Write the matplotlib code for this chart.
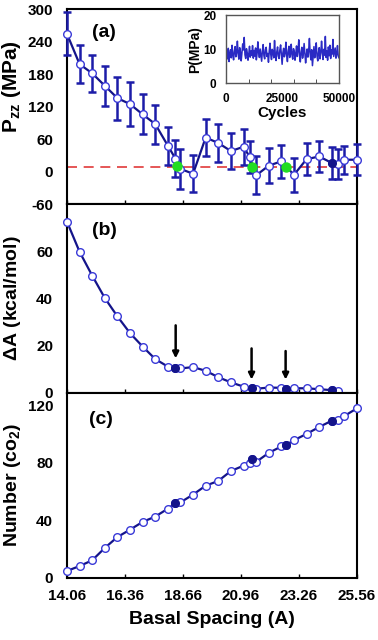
import numpy as np
import matplotlib
matplotlib.use("Agg")
import matplotlib.pyplot as plt

plt.rcParams['font.family'] = ['Liberation Sans', 'DejaVu Sans']
plt.rcParams['font.weight'] = 'bold'
plt.rcParams['axes.unicode_minus'] = False
plt.rcParams['mathtext.fontset'] = 'custom'
plt.rcParams['mathtext.rm'] = 'Liberation Sans:bold'
plt.rcParams['mathtext.bf'] = 'Liberation Sans:bold'
plt.rcParams['mathtext.it'] = 'Liberation Sans:bold'

# ---------------- data ----------------
x_ticks = [14.06, 16.36, 18.66, 20.96, 23.26, 25.56]

# panel (a)
x_a = [14.06, 14.56, 15.06, 15.56, 16.06, 16.56, 17.06, 17.56, 18.06, 18.36, 18.56,
       19.06, 19.56, 20.06, 20.56, 21.06, 21.31, 21.56, 22.06, 22.56, 23.06, 23.56,
       24.06, 24.56, 24.81, 25.06, 25.56]
p_a = [255, 199, 182, 159, 136, 125, 106, 88, 48, 24, 5,
       -4, 63, 53, 38, 46, 27, -7, 11, 19, -6, 23,
       28, 16, 14, 22, 22]
err_a = [40, 35, 34, 37, 40, 41, 37, 36, 35, 34, 37,
         34, 34, 35, 33, 33, 30, 35, 32, 30, 31, 30,
         29, 30, 28, 26, 29]
filled_a = [24.56]
filled_pa = [16]
green_x = [18.41, 21.41, 22.73]
green_p = [10, 8, 8]
ref_pressure = 8.5

# panel (b)
x_b = [14.06, 14.56, 15.06, 15.56, 16.06, 16.56, 17.06, 17.56, 18.06, 18.36, 18.56,
       19.06, 19.56, 20.06, 20.56, 21.06, 21.38, 21.56, 22.06, 22.56, 22.73, 23.06,
       23.56, 24.06, 24.56, 24.81]
dA_b = [72.5, 59.7, 49.6, 40.1, 32.3, 25.2, 19.5, 14.2, 11.0, 10.3, 10.2,
        10.8, 9.2, 6.5, 4.3, 2.5, 1.8, 1.6, 2.1, 2.0, 1.7, 1.8,
        1.8, 1.4, 1.0, 0.7]
filled_b = [18.36, 21.38, 22.73, 24.56]
filled_dA = [10.3, 1.8, 1.7, 1.0]
arrow_x = [18.37, 21.38, 22.73]
arrow_top = [28.5, 18.7, 17.6]
arrow_tip = [14.5, 5.5, 5.5]

# panel (c)
x_c = [14.06, 14.56, 15.06, 15.56, 16.06, 16.56, 17.06, 17.56, 18.06, 18.36, 18.56,
       19.06, 19.56, 20.06, 20.56, 21.06, 21.31, 21.41, 21.56, 22.06, 22.56, 22.73,
       23.06, 23.56, 24.06, 24.56, 24.81, 25.06, 25.56]
n_c = [4.9, 8.3, 12.3, 20.9, 28.5, 33.6, 39.0, 42.7, 48.2, 51.9, 52.6,
       58.0, 64.2, 67.5, 74.4, 78.1, 80.0, 83.0, 80.7, 87.0, 91.5, 92.3,
       95.8, 100.2, 105.0, 109.4, 110.0, 112.7, 118.0]
filled_c = [18.36, 21.41, 22.73, 24.56]
filled_n = [51.9, 83.0, 92.3, 109.4]

# inset: pressure trace over cycles
inset_p = [7.8, 9.6, 7.2, 10.3, 6.4, 8.8, 9.9, 7.5, 11.2, 8.3, 6.9, 9.4, 10.8, 7.8, 9.1,
           12.4, 8.6, 7.1, 10.5, 9.3, 6.6, 8.9, 11.6, 9.8, 13.5, 8.4, 7.3, 10.2, 9.0, 6.8,
           8.5, 10.9, 7.7, 9.5, 8.2, 11.1, 7.4, 9.7, 8.0, 10.4, 6.9, 8.7, 12.2, 9.2, 7.6,
           10.1, 8.3, 6.5, 9.6, 11.4, 8.1, 7.2, 9.9, 10.6, 7.9, 8.8, 6.2, 9.4, 11.8, 8.5,
           7.0, 10.0, 9.1, 7.5, 12.6, 8.4, 6.7, 9.3, 10.7, 8.0, 7.3, 9.8, 11.3, 8.6, 5.6,
           9.0, 10.3, 7.8, 8.9, 12.1, 8.2, 6.4, 9.5, 10.9, 7.6, 8.7, 11.5, 8.3, 7.1, 10.2,
           9.4, 6.8, 8.6, 11.0, 7.9, 9.7, 12.8, 8.1, 6.3, 9.2, 10.6, 7.4, 8.8, 11.7, 9.0,
           6.0, 8.4, 10.1, 7.7, 9.6, 13.2, 8.5, 6.9, 9.9, 5.2, 8.2, 10.8, 7.5, 9.3, 11.9,
           8.0, 6.6, 9.1, 10.5, 7.2, 8.9, 12.4, 9.4, 7.0, 10.0, 8.3, 13.8, 7.6, 9.5, 6.8,
           10.7, 8.1, 11.2, 7.3, 9.8, 8.6, 12.9, 7.9, 9.2, 10.4, 7.4, 8.7, 11.1, 8.0, 7.5]
cycles_max = 50000

# ---------------- style ----------------
navy = '#14148a'
mblue = '#3a3ad8'
fig = plt.figure(figsize=(3.78, 6.4), dpi=100)
L, W = 0.1772, 0.7672
ax_a = fig.add_axes([L, 0.68125, W, 0.30545])
ax_b = fig.add_axes([L, 0.3867, W, 0.29455])
ax_c = fig.add_axes([L, 0.0969, W, 0.2898])

for ax in (ax_a, ax_b, ax_c):
    ax.set_xlim(14.06, 25.56)
    ax.set_xticks(x_ticks)
    for s in ax.spines.values():
        s.set_linewidth(1.5)
        s.set_color('black')
        s.set_zorder(1)
    ax.tick_params(axis='x', direction='in', length=3, width=1, labelsize=11, pad=8)
    ax.tick_params(axis='y', direction='in', length=0, labelsize=11, pad=10)
ax_a.tick_params(axis='x', labelbottom=False)
ax_b.tick_params(axis='x', labelbottom=False)

mk = dict(marker='o', ms=5.5, mfc='white', mec=mblue, mew=1.0, ls='none', zorder=4, clip_on=False)
fk = dict(marker='o', ms=5.5, mfc=navy, mec=navy, mew=1.0, ls='none', zorder=5, clip_on=False)

# (a)
ax_a.axhline(ref_pressure, color='#e03a3a', ls=(0, (6, 4)), lw=1.2, zorder=1)
eb = ax_a.errorbar(x_a, p_a, yerr=err_a, fmt='-', color=navy, lw=1.6,
                   ecolor='#1c1ca8', elinewidth=1.8, capsize=3.2, capthick=1.8, zorder=2)
for art in eb.lines[1] + eb.lines[2]:
    art.set_clip_on(False)
eb.lines[0].set_clip_on(False)
ax_a.plot(x_a, p_a, **mk)
ax_a.plot(filled_a, filled_pa, **fk)
ax_a.plot(green_x, green_p, 'o', ms=6.5, color='#22dd22', zorder=6)
ax_a.set_ylim(-60, 302)
ax_a.set_yticks([-60, 0, 60, 120, 180, 240, 300])
ax_a.set_ylabel(r'$\mathbf{P_{zz}}$ (MPa)', fontsize=15, fontweight='bold')
ax_a.yaxis.set_label_coords(-0.15, 0.6)
ax_a.text(0.086, 0.875, '(a)', transform=ax_a.transAxes, fontsize=14,
          fontweight='bold', va='center', ha='left')

# (b)
ax_b.plot(x_b, dA_b, '-', color=navy, lw=1.6, zorder=2, clip_on=False)
ax_b.plot(x_b, dA_b, **mk)
ax_b.plot(filled_b, filled_dA, **fk)
for xa, yt, yp in zip(arrow_x, arrow_top, arrow_tip):
    ax_b.annotate('', xy=(xa, yp), xytext=(xa, yt),
                  arrowprops=dict(arrowstyle='-|>', color='black', lw=1.8,
                                  mutation_scale=9, shrinkA=0, shrinkB=0))
ax_b.set_ylim(0, 80)
ax_b.set_yticks([0, 20, 40, 60])
ax_b.set_ylabel(r'$\Delta$A (kcal/mol)', fontsize=14, fontweight='bold')
ax_b.yaxis.set_label_coords(-0.15, 0.5)
ax_b.text(0.086, 0.862, '(b)', transform=ax_b.transAxes, fontsize=14,
          fontweight='bold', va='center', ha='left')

# (c)
ax_c.plot(x_c, n_c, '-', color=navy, lw=1.6, zorder=2, clip_on=False)
ax_c.plot(x_c, n_c, **mk)
ax_c.plot(filled_c, filled_n, **fk)
ax_c.set_ylim(0, 129)
ax_c.set_yticks([0, 40, 80, 120])
ax_c.set_ylabel(r'Number (co$_\mathbf{2}$)', fontsize=14, fontweight='bold')
ax_c.yaxis.set_label_coords(-0.15, 0.5)
ax_c.set_xlabel('Basal Spacing (A)', fontsize=14, fontweight='bold', labelpad=6)
ax_c.text(0.075, 0.852, '(c)', transform=ax_c.transAxes, fontsize=14,
          fontweight='bold', va='center', ha='left')

# inset
ax_i = fig.add_axes([0.5979, 0.8698, 0.2989, 0.10625])
cyc = np.linspace(0, cycles_max, len(inset_p))
ax_i.plot(cyc, inset_p, '-', color='#2a2ac4', lw=1.1)
ax_i.set_xlim(0, cycles_max)
ax_i.set_ylim(0, 20)
ax_i.set_xticks([0, 25000, 50000])
ax_i.set_xticks([10000, 20000, 30000, 40000], minor=True)
ax_i.set_yticks([0, 10, 20])
ax_i.tick_params(axis='both', which='major', length=0, labelsize=8.5, pad=7)
ax_i.tick_params(axis='x', which='minor', direction='in', length=3, color='#333333')
for s in ax_i.spines.values():
    s.set_linewidth(1.0)
    s.set_color('#555555')
ax_i.set_xlabel('Cycles', fontsize=11, fontweight='bold', labelpad=1)
ax_i.set_ylabel('P(MPa)', fontsize=10, fontweight='bold', labelpad=1)

fig.savefig('out.png', dpi=100)
